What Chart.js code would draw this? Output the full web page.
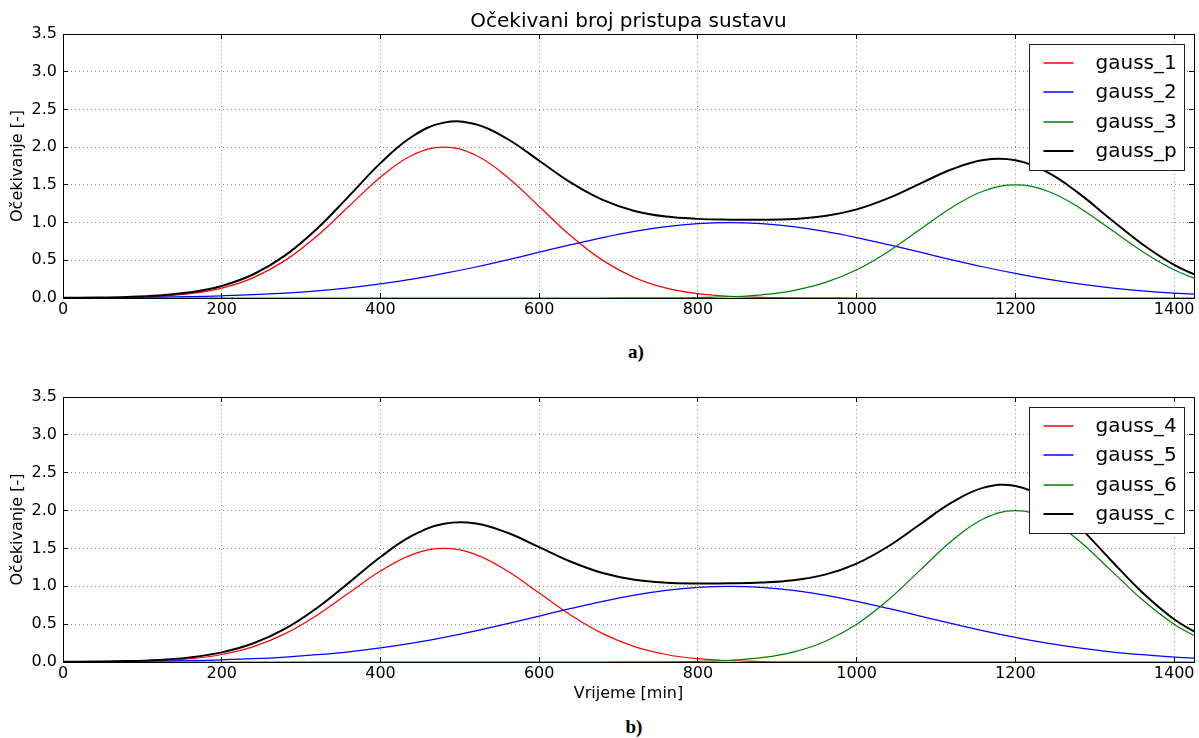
<!DOCTYPE html>
<html>
<head>
<meta charset="utf-8">
<script src="https://cdn.jsdelivr.net/npm/chart.js@4.4.1/dist/chart.umd.min.js"></script>
<style>
  html, body { margin: 0; padding: 0; background: #fff; }
  body { width: 1199px; height: 738px; position: relative; overflow: hidden; }
  .box { position: absolute; left: 0; width: 1199px; height: 330px; }
  .cap { position: absolute; font: bold 19px "Liberation Serif", "DejaVu Serif", serif; transform: translate(-50%, -50%); color: #000; }
</style>
</head>
<body>
<div class="box" style="top:0"><canvas id="chartA"></canvas></div>
<div class="box" style="top:380px"><canvas id="chartB"></canvas></div>
<div class="cap" style="left:636px; top:352px">a)</div>
<div class="cap" style="left:634px; top:727px">b)</div>
<script>
/* two stacked gauss plots */
const minutes = [0, 40, 80, 120, 160, 200, 240, 280, 320, 360, 400, 440, 480, 520, 560, 600, 640, 680, 720,
  760, 800, 840, 880, 920, 960, 1000, 1040, 1080, 1120, 1160, 1200, 1240, 1280, 1320, 1360, 1400, 1440];

// chart a)
const gauss1 = [0.001, 0.002, 0.008, 0.022, 0.057, 0.131, 0.271, 0.499, 0.822, 1.213, 1.602, 1.892, 2.000,
  1.892, 1.602, 1.213, 0.822, 0.499, 0.271, 0.131, 0.057, 0.022, 0.008, 0.002, 0.001,
  0, 0, 0, 0, 0, 0, 0, 0, 0, 0, 0, 0];
const gauss2 = [0.002, 0.004, 0.007, 0.011, 0.018, 0.029, 0.044, 0.066, 0.096, 0.135, 0.186, 0.249, 0.325,
  0.411, 0.506, 0.607, 0.707, 0.801, 0.883, 0.946, 0.986, 1.000, 0.986, 0.946, 0.883, 0.801, 0.707,
  0.607, 0.506, 0.411, 0.325, 0.249, 0.186, 0.135, 0.096, 0.066, 0.044];
const gauss3 = [0, 0, 0, 0, 0, 0, 0, 0, 0, 0, 0, 0, 0, 0, 0, 0, 0, 0,
  0.001, 0.002, 0.006, 0.017, 0.043, 0.099, 0.203, 0.374, 0.617, 0.910, 1.201, 1.419, 1.500,
  1.419, 1.201, 0.910, 0.617, 0.374, 0.203];
const gaussP = [0.003, 0.006, 0.014, 0.033, 0.075, 0.160, 0.315, 0.565, 0.918, 1.348, 1.788, 2.141, 2.325,
  2.303, 2.108, 1.820, 1.529, 1.300, 1.154, 1.079, 1.049, 1.039, 1.037, 1.047, 1.086, 1.175, 1.324,
  1.517, 1.707, 1.830, 1.825, 1.668, 1.387, 1.045, 0.713, 0.440, 0.247];

// chart b)
const gauss4 = [0.001, 0.002, 0.006, 0.017, 0.043, 0.099, 0.203, 0.374, 0.617, 0.910, 1.201, 1.419, 1.500,
  1.419, 1.201, 0.910, 0.617, 0.374, 0.203, 0.099, 0.043, 0.017, 0.006, 0.002, 0.001,
  0, 0, 0, 0, 0, 0, 0, 0, 0, 0, 0, 0];
const gauss5 = [0.002, 0.004, 0.007, 0.011, 0.018, 0.029, 0.044, 0.066, 0.096, 0.135, 0.186, 0.249, 0.325,
  0.411, 0.506, 0.607, 0.707, 0.801, 0.883, 0.946, 0.986, 1.000, 0.986, 0.946, 0.883, 0.801, 0.707,
  0.607, 0.506, 0.411, 0.325, 0.249, 0.186, 0.135, 0.096, 0.066, 0.044];
const gauss6 = [0, 0, 0, 0, 0, 0, 0, 0, 0, 0, 0, 0, 0, 0, 0, 0, 0, 0,
  0.001, 0.002, 0.008, 0.022, 0.057, 0.131, 0.271, 0.499, 0.822, 1.213, 1.602, 1.892, 2.000,
  1.892, 1.602, 1.213, 0.822, 0.499, 0.271];
const gaussC = [0.003, 0.006, 0.012, 0.028, 0.061, 0.127, 0.247, 0.440, 0.713, 1.045, 1.387, 1.668, 1.825,
  1.830, 1.707, 1.517, 1.324, 1.175, 1.086, 1.047, 1.037, 1.039, 1.049, 1.079, 1.154, 1.300, 1.529,
  1.820, 2.108, 2.303, 2.325, 2.141, 1.788, 1.348, 0.918, 0.565, 0.315];

const xTicks = [0, 200, 400, 600, 800, 1000, 1200, 1400];
const yTicks = [0, 0.5, 1, 1.5, 2, 2.5, 3, 3.5];
const yTickLabels = ['0.0', '0.5', '1.0', '1.5', '2.0', '2.5', '3.0', '3.5'];

Chart.defaults.font.family = '"DejaVu Sans", sans-serif';
Chart.defaults.font.size = 16;
Chart.defaults.color = '#000';

const align = v => Math.round(v - 0.5) + 0.5;

// box around plot, inward ticks, matplotlib-like legend
const framePlugin = {
  id: 'frame',
  afterDraw(chart) {
    const { ctx, chartArea: a, scales } = chart;
    ctx.save();
    ctx.strokeStyle = '#000';
    ctx.lineWidth = 1;
    ctx.beginPath();
    scales.x.ticks.forEach(t => {
      const px = align(scales.x.getPixelForValue(t.value));
      ctx.moveTo(px, a.bottom); ctx.lineTo(px, a.bottom - 5);
      ctx.moveTo(px, a.top); ctx.lineTo(px, a.top + 5);
    });
    scales.y.ticks.forEach(t => {
      const py = align(scales.y.getPixelForValue(t.value));
      ctx.moveTo(a.left, py); ctx.lineTo(a.left + 5, py);
      ctx.moveTo(a.right, py); ctx.lineTo(a.right - 5, py);
    });
    ctx.stroke();
    const l = align(a.left), r = align(a.right), t = align(a.top), b = align(a.bottom);
    ctx.strokeRect(l, t, r - l, b - t);

    // legend
    const w = 155, h = 126;
    const bx = align(a.right - 10 - w), by = align(a.top + 10);
    ctx.fillStyle = '#fff';
    ctx.fillRect(bx, by, w, h);
    ctx.strokeStyle = '#222';
    ctx.strokeRect(bx, by, w, h);
    ctx.font = '20px "DejaVu Sans", sans-serif';
    ctx.textBaseline = 'middle';
    ctx.textAlign = 'left';
    chart.data.datasets.forEach((ds, i) => {
      const y = Math.round(by + 18 + i * 29.5);
      ctx.strokeStyle = ds.borderColor;
      ctx.lineWidth = ds.borderWidth > 1.5 ? 2 : 1.5;
      ctx.beginPath();
      ctx.moveTo(bx + 14, y); ctx.lineTo(bx + 44, y);
      ctx.stroke();
      ctx.fillStyle = '#000';
      ctx.fillText(ds.label, bx + 66, y + 1);
    });
    ctx.restore();
  }
};

function lineSet(label, values, color, width, order) {
  return {
    label: label,
    data: minutes.map((m, i) => ({ x: m, y: values[i] })),
    borderColor: color,
    backgroundColor: color,
    borderWidth: width,
    pointRadius: 0,
    tension: 0.4,
    fill: false,
    order: order
  };
}

function makeChart(id, sets, cfg) {
  return new Chart(document.getElementById(id), {
    type: 'line',
    data: { datasets: sets },
    plugins: [framePlugin],
    options: {
      responsive: true,
      maintainAspectRatio: false,
      animation: false,
      layout: { padding: { top: cfg.padTop, right: 5, left: 0, bottom: 0 } },
      scales: {
        x: {
          type: 'linear',
          min: 0,
          max: 1425,
          afterFit: s => { s.height = cfg.xHeight; },
          afterBuildTicks: s => { s.ticks = xTicks.map(v => ({ value: v })); },
          ticks: {
            padding: 2,
            maxRotation: 0,
            autoSkip: false,
            callback: v => String(v)
          },
          grid: { color: 'rgba(0,0,0,0.45)', drawTicks: false },
          border: { display: false, dash: [1, 3] },
          title: cfg.xTitle ? {
            display: true, text: cfg.xTitle, font: { size: 16 },
            padding: { top: 0, bottom: 7 }
          } : { display: false }
        },
        y: {
          min: 0,
          max: 3.5,
          afterFit: s => { s.width = 63; },
          afterBuildTicks: s => { s.ticks = yTicks.map(v => ({ value: v })); },
          ticks: {
            padding: 6,
            autoSkip: false,
            callback: (v, i) => yTickLabels[i]
          },
          grid: { color: 'rgba(0,0,0,0.45)', drawTicks: false },
          border: { display: false, dash: [1, 3] },
          title: {
            display: true, text: 'Očekivanje [-]', font: { size: 16 },
            padding: { top: 8, bottom: 0 }
          }
        }
      },
      plugins: {
        legend: { display: false },
        tooltip: { enabled: false },
        title: cfg.title ? {
          display: true, text: cfg.title, fullSize: false,
          font: { size: 20, weight: 'normal' }, color: '#000',
          padding: { top: 10, bottom: 0 }
        } : { display: false }
      }
    }
  });
}

makeChart('chartA', [
  lineSet('gauss_1', gauss1, '#ff0000', 1.25, 4),
  lineSet('gauss_2', gauss2, '#0000ff', 1.25, 3),
  lineSet('gauss_3', gauss3, '#008000', 1.25, 2),
  lineSet('gauss_p', gaussP, '#000000', 2, 1)
], { padTop: 0, xHeight: 32, title: 'Očekivani broj pristupa sustavu' });

makeChart('chartB', [
  lineSet('gauss_4', gauss4, '#ff0000', 1.25, 4),
  lineSet('gauss_5', gauss5, '#0000ff', 1.25, 3),
  lineSet('gauss_6', gauss6, '#008000', 1.25, 2),
  lineSet('gauss_c', gaussC, '#000000', 2, 1)
], { padTop: 17, xHeight: 48, xTitle: 'Vrijeme [min]' });
</script>
</body>
</html>
